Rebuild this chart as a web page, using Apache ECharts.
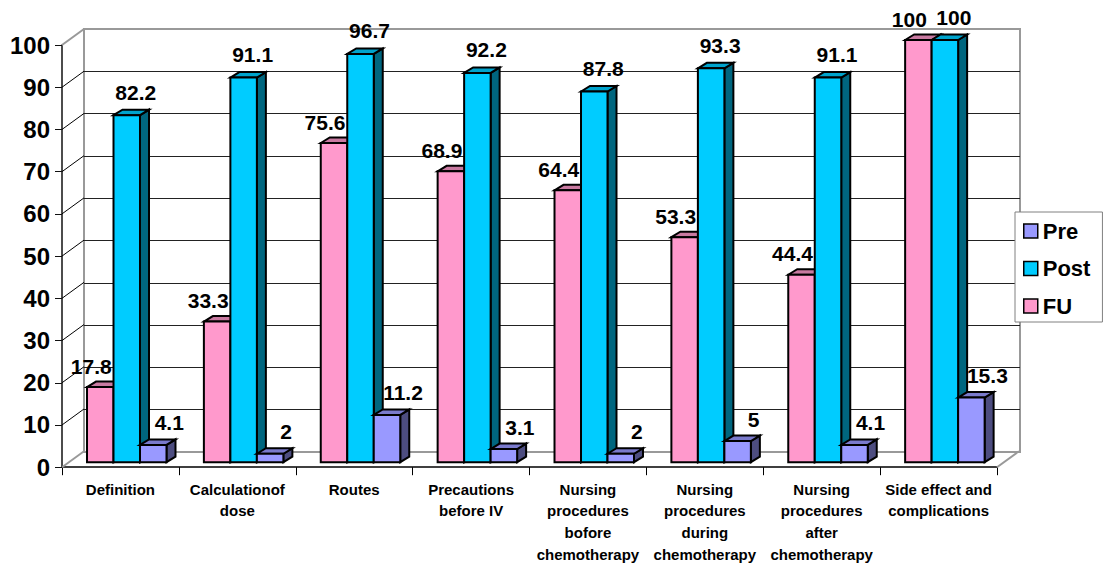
<!DOCTYPE html>
<html>
<head>
<meta charset="utf-8">
<script src="https://cdn.jsdelivr.net/npm/echarts@6/dist/echarts.min.js"></script>
<style>
  html, body { margin: 0; padding: 0; background: #ffffff; }
  #chart { width: 1112px; height: 565px; }
</style>
</head>
<body>
<div id="chart"></div>
<script>
// Knowledge scores (%) per topic, three assessment points
const categories = [
  'Definition',
  'Calculationof\ndose',
  'Routes',
  'Precautions\nbefore IV',
  'Nursing\nprocedures\nbofore\nchemotherapy',
  'Nursing\nprocedures\nduring\nchemotherapy',
  'Nursing\nprocedures\nafter\nchemotherapy',
  'Side effect and\ncomplications'
];
const fuValues   = [17.8, 33.3, 75.6, 68.9, 64.4, 53.3, 44.4, 100];
const postValues = [82.2, 91.1, 96.7, 92.2, 87.8, 93.3, 91.1, 100];
const preValues  = [4.1, 2, 11.2, 3.1, 2, 5, 4.1, 15.3];
const yTicks     = [0, 10, 20, 30, 40, 50, 60, 70, 80, 90, 100];
const legendOrder = ['Pre', 'Post', 'FU'];

const FONT = '"Liberation Sans", Arial, sans-serif';
// depth of the back wall relative to the front axes
const WALL_DX = 22, WALL_DY = -16;
// depth of each bar block
const BAR_DX = 9, BAR_DY = -5.5;

const palettes = {
  FU:   { front: '#FF99CC', top: '#C97AA1', side: '#995C7A' },
  Post: { front: '#00CCFF', top: '#00A3CC', side: '#00667F' },
  Pre:  { front: '#9999FF', top: '#7A7ACC', side: '#4D4D80' }
};

function barSeries(name, values, slot, labelDx, labelDy) {
  const pal = palettes[name];
  return {
    type: 'custom',
    name: name,
    xAxisIndex: 0,
    yAxisIndex: 0,
    z: 3,
    itemStyle: { color: pal.front, borderColor: '#000', borderWidth: 1.5 },
    encode: { x: 0, y: 1 },
    data: values.map((v, i) => [i, v]),
    renderItem: function (params, api) {
      const i = api.value(0), v = api.value(1);
      const base = api.coord([i, 0]);
      const top = api.coord([i, v]);
      const band = api.size([1, 0])[0];
      const barW = band * 0.2267;
      const x0 = base[0] - band / 2 + band * 0.214 + slot * barW;
      const x1 = x0 + barW;
      const yb = base[1] - 5;
      const yt = top[1] - 5;
      const stroke = { stroke: '#000', lineWidth: 2, lineJoin: 'miter' };
      return {
        type: 'group',
        children: [
          {
            type: 'polygon', z2: slot + 1,
            shape: { points: [[x1, yt], [x1 + BAR_DX, yt + BAR_DY], [x1 + BAR_DX, yb + BAR_DY], [x1, yb]] },
            style: Object.assign({ fill: pal.side }, stroke)
          },
          {
            type: 'polygon', z2: slot + 1,
            shape: { points: [[x0, yt], [x0 + BAR_DX, yt + BAR_DY], [x1 + BAR_DX, yt + BAR_DY], [x1, yt]] },
            style: Object.assign({ fill: pal.top }, stroke)
          },
          {
            type: 'rect', z2: slot + 1,
            shape: { x: x0, y: yt, width: barW, height: yb - yt },
            style: Object.assign({ fill: pal.front }, stroke)
          },
          {
            type: 'text', z2: 20,
            x: (x0 + x1) / 2 + labelDx,
            y: yt + labelDy,
            style: {
              text: String(v),
              fill: '#000',
              font: 'bold 21px ' + FONT,
              align: 'center',
              verticalAlign: 'middle'
            }
          }
        ]
      };
    }
  };
}

// Side wall: lines joining the front value axis to the back wall
const wallSeries = {
  type: 'custom',
  name: 'wall',
  xAxisIndex: 0,
  yAxisIndex: 0,
  z: 1,
  silent: true,
  encode: { x: 0, y: 1 },
  data: yTicks.map(v => [0, v]),
  renderItem: function (params, api) {
    const v = api.value(1);
    const p = api.coord([0, v]);
    const cs = params.coordSys;
    const edge = (v === 0 || v === 100);
    const children = [{
      type: 'line',
      shape: { x1: cs.x, y1: p[1], x2: cs.x + WALL_DX, y2: p[1] + WALL_DY },
      style: { stroke: edge ? '#999' : '#000', lineWidth: edge ? 2 : 1 }
    }];
    if (v === 0) {
      children.push({
        type: 'line',
        shape: { x1: cs.x + cs.width, y1: p[1], x2: cs.x + cs.width + WALL_DX, y2: p[1] + WALL_DY },
        style: { stroke: '#999', lineWidth: 2 }
      });
    }
    return { type: 'group', children: children };
  }
};

const chart = echarts.init(document.getElementById('chart'), null, { renderer: 'svg' });

chart.setOption({
  animation: false,
  backgroundColor: '#ffffff',
  grid: [
    { left: 62, right: 115, top: 45, bottom: 96.5 },
    { left: 84, right: 92, top: 29, bottom: 113, show: true,
      borderColor: '#999', borderWidth: 2, backgroundColor: 'transparent' }
  ],
  xAxis: [
    {
      type: 'category', gridIndex: 0, data: categories, boundaryGap: true,
      axisLine: { show: true, lineStyle: { color: '#000', width: 1.5 } },
      axisTick: { show: true, length: 8, interval: 0, lineStyle: { color: '#000', width: 1 } },
      axisLabel: {
        interval: 0, margin: 11, color: '#000',
        fontFamily: FONT, fontWeight: 'bold', fontSize: 15, lineHeight: 21.7
      },
      splitLine: { show: false }
    },
    { type: 'category', gridIndex: 1, data: categories, show: false }
  ],
  yAxis: [
    {
      type: 'value', gridIndex: 0, min: 0, max: 100, interval: 10,
      axisLine: { show: true, lineStyle: { color: '#111', width: 1.5 } },
      axisTick: { show: true, length: 7, lineStyle: { color: '#111', width: 1 } },
      axisLabel: {
        margin: 12, color: '#000',
        fontFamily: FONT, fontWeight: 'bold', fontSize: 24
      },
      splitLine: { show: false }
    },
    {
      type: 'value', gridIndex: 1, min: 0, max: 100, interval: 10,
      axisLine: { show: false }, axisTick: { show: false }, axisLabel: { show: false },
      splitLine: { show: true, showMinLine: false, showMaxLine: false,
        lineStyle: { color: '#222', width: 1 } }
    }
  ],
  legend: {
    data: legendOrder,
    orient: 'vertical',
    left: 1015,
    top: 212,
    icon: 'rect',
    itemWidth: 14,
    itemHeight: 14,
    itemGap: 15.5,
    padding: [8, 12, 5, 8],
    backgroundColor: '#ffffff',
    borderColor: '#808080',
    borderWidth: 1,
    itemStyle: { borderColor: '#000', borderWidth: 1.5 },
    textStyle: { color: '#000', fontFamily: FONT, fontWeight: 'bold', fontSize: 22, lineHeight: 22 }
  },
  series: [
    wallSeries,
    barSeries('FU', fuValues, 0, -9, -21),
    barSeries('Post', postValues, 1, 9, -23),
    barSeries('Pre', preValues, 2, 16, -22)
  ]
});
</script>
</body>
</html>
